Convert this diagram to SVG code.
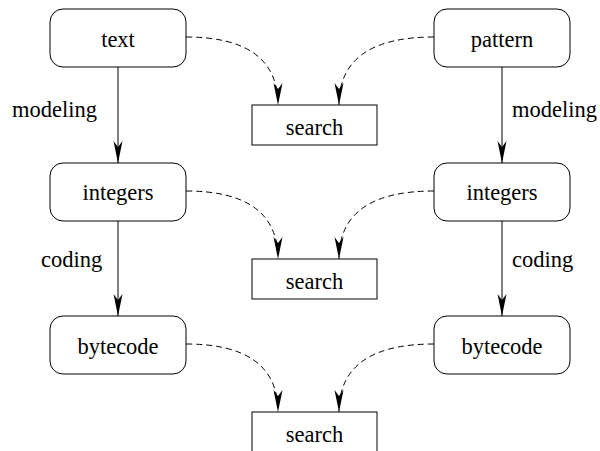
<svg xmlns="http://www.w3.org/2000/svg" width="600" height="451" viewBox="0 0 600 451">
  <style>
    .node rect { fill: #fff; stroke: #000; stroke-width: 1; }
    text { font-family: 'Liberation Serif', 'Times New Roman', 'DejaVu Serif', serif; font-size: 22.5px; fill: #000; }
    .node text { text-anchor: middle; }
    .solid { fill: none; stroke: #000; stroke-width: 1; marker-end: url(#head); }
    .dashed { fill: none; stroke: #000; stroke-width: 1; stroke-dasharray: 6 4; marker-end: url(#head); }
  </style>
  <defs>
    <!-- narrow barbed arrowhead shared by all connectors -->
    <marker id="head" markerUnits="userSpaceOnUse" markerWidth="24" markerHeight="12" viewBox="-23 -6 24 12" refX="0" refY="0" orient="auto">
      <path d="M0,0 L-22,-4.5 L-16,0 L-22,4.5 Z" fill="#000"/>
    </marker>
  </defs>

  <rect width="600" height="451" fill="#fff"/>

  <!-- connectors -->
  <g id="edges">
    <path class="solid" d="M118,67 V163"/>
    <path class="solid" d="M118,221 V316"/>
    <path class="solid" d="M502,67 V163"/>
    <path class="solid" d="M502,221 V316"/>

    <path class="dashed" d="M186,37 Q278,37 278,105"/>
    <path class="dashed" d="M434,37 Q339,37 339,105"/>
    <path class="dashed" d="M186,191 Q278,191 278,259"/>
    <path class="dashed" d="M434,191 Q339,191 339,259"/>
    <path class="dashed" d="M186,344 Q278,344 278,412"/>
    <path class="dashed" d="M434,344 Q339,344 339,412"/>
  </g>

  <!-- edge labels -->
  <g id="labels">
    <text x="12" y="117">modeling</text>
    <text x="41" y="267">coding</text>
    <text x="512" y="117">modeling</text>
    <text x="512" y="267">coding</text>
  </g>

  <!-- left column -->
  <g id="text" class="node">
    <rect x="50" y="9" width="136" height="58" rx="13"/>
    <text x="118" y="47">text</text>
  </g>
  <g id="integers-left" class="node">
    <rect x="50" y="163" width="136" height="58" rx="13"/>
    <text x="118" y="200">integers</text>
  </g>
  <g id="bytecode-left" class="node">
    <rect x="50" y="316" width="136" height="58" rx="13"/>
    <text x="118" y="354">bytecode</text>
  </g>

  <!-- right column -->
  <g id="pattern" class="node">
    <rect x="434" y="9" width="136" height="58" rx="13"/>
    <text x="502" y="47">pattern</text>
  </g>
  <g id="integers-right" class="node">
    <rect x="434" y="163" width="136" height="58" rx="13"/>
    <text x="502" y="200">integers</text>
  </g>
  <g id="bytecode-right" class="node">
    <rect x="434" y="316" width="136" height="58" rx="13"/>
    <text x="502" y="354">bytecode</text>
  </g>

  <!-- search boxes -->
  <g id="search-1" class="node">
    <rect x="252" y="105" width="125" height="40"/>
    <text x="314.5" y="135">search</text>
  </g>
  <g id="search-2" class="node">
    <rect x="252" y="259" width="125" height="40"/>
    <text x="314.5" y="289">search</text>
  </g>
  <g id="search-3" class="node">
    <rect x="252" y="412" width="125" height="40"/>
    <text x="314.5" y="442">search</text>
  </g>
</svg>
